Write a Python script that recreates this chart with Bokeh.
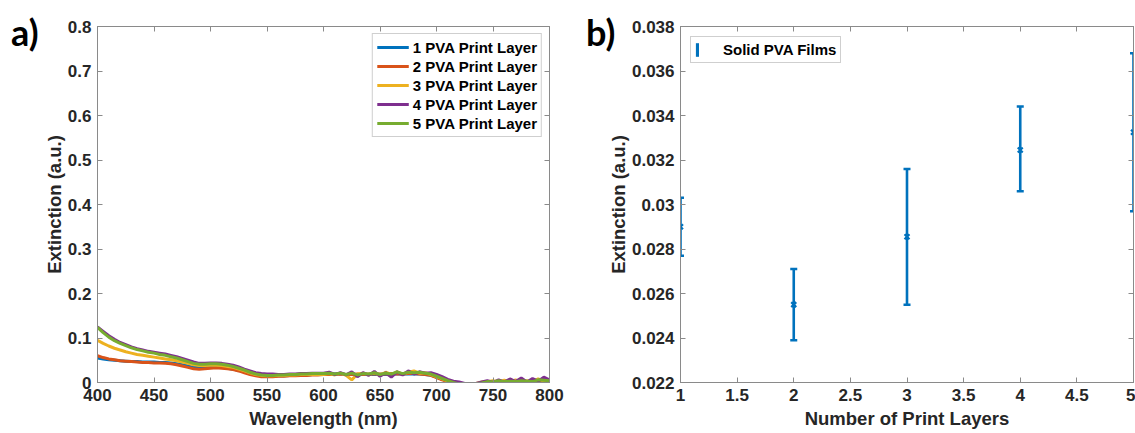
from bokeh.plotting import figure
from bokeh.models import (Range1d, FixedTicker, LinearAxis, Legend, LegendItem,
                          ColumnDataSource, CustomJSTickFormatter, Div)
from bokeh.layouts import row
from bokeh.embed import file_html
from bokeh.resources import INLINE

# ---------------- data: panel a ----------------
wavelength = list(range(400, 805, 5))
series_labels = ["1 PVA Print Layer", "2 PVA Print Layer", "3 PVA Print Layer",
                 "4 PVA Print Layer", "5 PVA Print Layer"]
series_colors = ["#0072BD", "#D95319", "#EDB120", "#7E2F8E", "#77AC30"]

layer1 = [.055, .053, .051, .050, .049, .048, .047, .047, .046, .046, .046, .045, .045, .044, .042, .040, .037, .034, .033, .034,
          .035, .035, .034, .032, .030, .027, .024, .020, .017, .015, .014, .014, .015, .015, .016, .016, .017, .017, .018, .018,
          .019, .019, .019, .019, .018, .018, .018, .018, .018, .018, .018, .018, .019, .019, .019, .019, .019, .019, .018, .016,
          .012, .007, .003, .000, -.003, -.005, -.005, -.003, -.001, .001, .001, .001, .001, .002, .002, .002, .002, .002, .002, .002,
          .002]
layer2 = [.060, .056, .053, .051, .049, .048, .047, .046, .045, .045, .044, .044, .043, .042, .040, .037, .034, .031, .030, .031,
          .032, .033, .032, .031, .029, .026, .022, .018, .015, .013, .013, .013, .014, .014, .015, .015, .016, .016, .017, .017,
          .018, .018, .018, .019, .018, .018, .019, .018, .019, .019, .019, .019, .020, .019, .019, .020, .020, .019, .018, .016,
          .011, .006, .002, -.001, -.004, -.006, -.006, -.004, -.001, .000, .001, .001, .001, .001, .001, .002, .001, .001, .002, .001,
          .002]
layer3 = [.095, .088, .082, .077, .073, .069, .066, .063, .061, .059, .057, .055, .053, .051, .049, .046, .043, .040, .038, .038,
          .039, .039, .038, .036, .034, .030, .026, .022, .018, .016, .015, .015, .016, .016, .017, .017, .018, .018, .018, .018,
          .018, .020, .017, .021, .016, .006, .019, .021, .017, .022, .016, .023, .018, .024, .019, .023, .026, .021, .022, .018,
          .013, .008, .003, .000, -.003, -.004, -.003, -.002, .001, .002, .004, .001, .005, .002, .006, .001, .004, .002, .008, .003,
          .005]
layer4 = [.125, .115, .105, .097, .090, .085, .080, .076, .073, .070, .068, .066, .064, .061, .058, .054, .050, .046, .043, .043,
          .044, .044, .043, .041, .039, .035, .030, .026, .022, .020, .019, .019, .018, .018, .019, .019, .020, .020, .021, .021,
          .021, .023, .018, .022, .017, .024, .013, .022, .016, .025, .014, .022, .012, .024, .017, .026, .019, .024, .021, .022,
          .018, .013, .007, .003, .001, -.002, -.004, -.002, .001, .004, .000, .006, .001, .008, .002, .010, .001, .009, .003, .012,
          .006]
layer5 = [.124, .112, .102, .094, .088, .083, .078, .074, .071, .068, .066, .063, .061, .058, .055, .051, .047, .043, .041, .041,
          .042, .042, .041, .039, .036, .032, .028, .023, .019, .017, .016, .016, .017, .017, .018, .018, .019, .019, .020, .020,
          .020, .021, .019, .021, .018, .021, .017, .020, .019, .022, .018, .021, .019, .024, .020, .023, .022, .023, .021, .019,
          .014, .009, .004, .000, -.003, -.005, -.004, -.003, -.001, .002, .001, .004, .002, .003, .002, .004, .003, .002, .006, .005,
          .004]
series_values = [layer1, layer2, layer3, layer4, layer5]

a_xticks = [400, 450, 500, 550, 600, 650, 700, 750, 800]
a_xlabels = ["400", "450", "500", "550", "600", "650", "700", "750", "800"]
a_yticks = [0, 0.1, 0.2, 0.3, 0.4, 0.5, 0.6, 0.7, 0.8]
a_ylabels = ["0", "0.1", "0.2", "0.3", "0.4", "0.5", "0.6", "0.7", "0.8"]

# ---------------- data: panel b ----------------
layers = [1, 2, 3, 4, 5]
ext_mean = [0.0290, 0.0255, 0.02855, 0.03245, 0.03325]
ext_low = [0.0277, 0.0239, 0.0255, 0.0306, 0.0297]
ext_high = [0.0303, 0.0271, 0.0316, 0.0344, 0.0368]

b_xticks = [1, 1.5, 2, 2.5, 3, 3.5, 4, 4.5, 5]
b_xlabels = ["1", "1.5", "2", "2.5", "3", "3.5", "4", "4.5", "5"]
b_yticks = [0.022, 0.024, 0.026, 0.028, 0.03, 0.032, 0.034, 0.036, 0.038]
b_ylabels = ["0.022", "0.024", "0.026", "0.028", "0.03", "0.032", "0.034", "0.036", "0.038"]

FONT = "Liberation Sans"
TXT = "#262626"
AXC = "#8a8a8a"


def style(p, xt, xl, yt, yl, xlabel, ylabel):
    p.grid.visible = False
    p.outline_line_color = AXC
    p.border_fill_alpha = 0
    for ax, t, l in ((p.xaxis[0], xt, xl), (p.yaxis[0], yt, yl)):
        ax.ticker = FixedTicker(ticks=t)
        ax.major_label_overrides = dict(zip(t, l))
        ax.major_label_text_font = FONT
        ax.major_label_text_font_style = "bold"
        ax.major_label_text_font_size = "17px"
        ax.major_label_text_color = TXT
        ax.major_label_standoff = 6
        ax.axis_label_text_font = FONT
        ax.axis_label_text_font_style = "bold"
        ax.axis_label_text_font_size = "18.5px"
        ax.axis_label_text_color = TXT
        ax.axis_label_standoff = 4
        ax.major_tick_in = 5
        ax.major_tick_out = 0
        ax.minor_tick_in = 0
        ax.minor_tick_out = 0
        ax.axis_line_color = AXC
        ax.major_tick_line_color = AXC
    p.yaxis[0].axis_label_standoff = 0
    p.xaxis[0].axis_label = xlabel
    p.yaxis[0].axis_label = ylabel
    for t, place in ((xt, "above"), (yt, "right")):
        ax = LinearAxis(ticker=FixedTicker(ticks=t),
                        formatter=CustomJSTickFormatter(code="return ''"),
                        major_label_standoff=0, major_tick_in=5, major_tick_out=0,
                        minor_tick_in=0, minor_tick_out=0, axis_line_color=AXC,
                        major_tick_line_color=AXC)
        p.add_layout(ax, place)


def panel_label(text, width, left, top):
    html = (f'<div style="position:relative; left:{left}px; top:{top}px; '
            f'font-family:Lato; font-weight:bold; font-size:36px; line-height:1; '
            f'color:#000000; white-space:nowrap;">{text}</div>')
    return Div(text=html, width=width, height=433, margin=0, styles={"overflow": "visible"})


# ---------------- panel a ----------------
pa = figure(width=535, height=433, output_backend="svg", toolbar_location=None,
            x_range=Range1d(400, 800), y_range=Range1d(0, 0.8),
            min_border_left=57, min_border_right=26, min_border_top=26, min_border_bottom=51)
style(pa, a_xticks, a_xlabels, a_yticks, a_ylabels, "Wavelength (nm)", "Extinction (a.u.)")
items = []
for lab, col, vals in zip(series_labels, series_colors, series_values):
    r = pa.line(wavelength, vals, line_color=col, line_width=3)
    items.append(LegendItem(label=lab, renderers=[r]))
leg = Legend(items=items, location="top_right", margin=7, padding=4, spacing=1,
             glyph_width=32, glyph_height=18, label_height=18, label_standoff=4,
             label_text_font=FONT, label_text_font_style="bold", label_text_font_size="15px",
             label_text_color="#000000", border_line_color="#a0a0a0", border_line_width=1,
             background_fill_alpha=1)
pa.add_layout(leg)

# ---------------- panel b ----------------
pb = figure(width=531, height=433, output_backend="svg", toolbar_location=None,
            x_range=Range1d(1, 5), y_range=Range1d(0.022, 0.038),
            min_border_left=76, min_border_right=2, min_border_top=26, min_border_bottom=51)
style(pb, b_xticks, b_xlabels, b_yticks, b_ylabels, "Number of Print Layers", "Extinction (a.u.)")
src = ColumnDataSource(dict(x=layers, mean=ext_mean, low=ext_low, high=ext_high,
                            mid=[(l + h) / 2 for l, h in zip(ext_low, ext_high)],
                            span=[h - l for l, h in zip(ext_low, ext_high)]))
bar = pb.rect(x="x", y="mid", width=2.6, height="span", width_units="screen", source=src,
              fill_color="#0072BD", line_color=None)
pb.scatter(x="x", y="low", source=src, marker="dash", size=7, line_color="#0072BD", line_width=2.5)
pb.scatter(x="x", y="high", source=src, marker="dash", size=7, line_color="#0072BD", line_width=2.5)
pb.scatter(x="x", y="mean", source=src, marker="x", size=7, line_color="#0072BD", line_width=2.2)
legb = Legend(items=[LegendItem(label="Solid PVA Films", renderers=[bar])], location="top_left",
              margin=10, padding=4, glyph_width=4, glyph_height=17, label_height=17,
              label_standoff=24, label_text_font=FONT, label_text_font_style="bold",
              label_text_font_size="15px", label_text_color="#000000",
              border_line_color="#a0a0a0", border_line_width=1)
pb.add_layout(legb)

layout = row(panel_label("a)", 40, 11, 14), pa, panel_label("b)", 29, 11, 14), pb)
open("out.html", "w").write(file_html(layout, INLINE))
